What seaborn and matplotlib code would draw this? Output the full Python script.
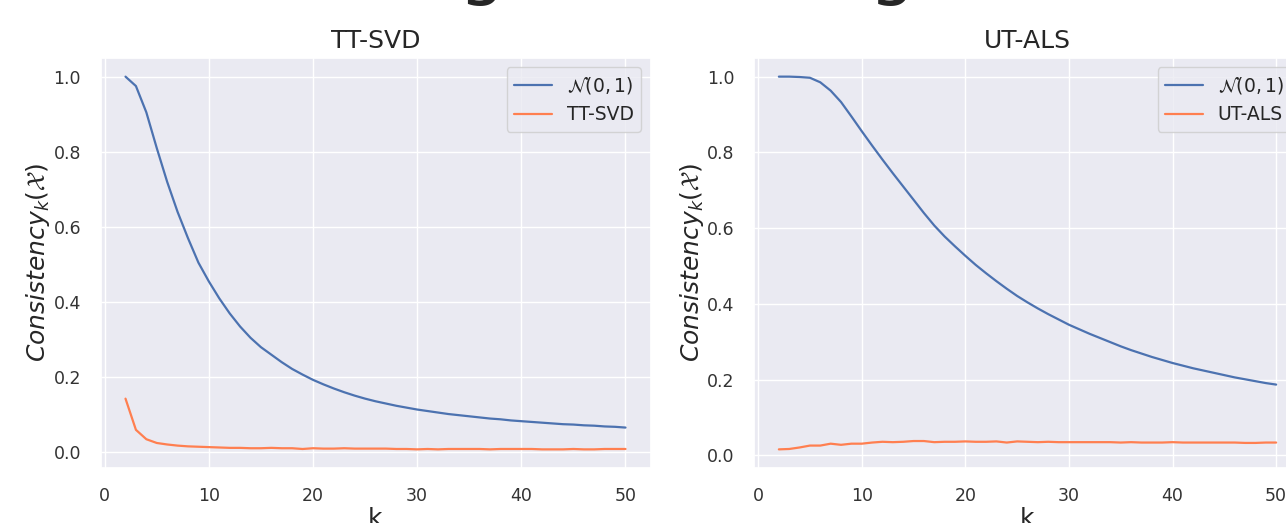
import numpy as np
import pandas as pd
import seaborn as sns
import matplotlib.pyplot as plt

# k values on the x axis
k_values = list(range(2, 51))

# left panel: TT-SVD
ttsvd_normal = [1.0, 0.975, 0.905, 0.81, 0.72, 0.64, 0.57, 0.505, 0.455, 0.41,
                0.37, 0.335, 0.305, 0.28, 0.26, 0.24, 0.222, 0.207, 0.193, 0.181,
                0.17, 0.16, 0.151, 0.143, 0.136, 0.13, 0.124, 0.119, 0.114, 0.11,
                0.106, 0.102, 0.099, 0.096, 0.093, 0.09, 0.088, 0.085, 0.083, 0.081,
                0.079, 0.077, 0.075, 0.074, 0.072, 0.071, 0.069, 0.068, 0.066]
ttsvd_method = [0.143, 0.06, 0.035, 0.025, 0.021, 0.018, 0.016, 0.015, 0.014, 0.013,
                0.012, 0.012, 0.011, 0.011, 0.012, 0.011, 0.011, 0.009, 0.011, 0.010,
                0.010, 0.011, 0.010, 0.010, 0.010, 0.010, 0.009, 0.009, 0.008, 0.009,
                0.008, 0.009, 0.009, 0.009, 0.009, 0.008, 0.009, 0.009, 0.009, 0.009,
                0.008, 0.008, 0.008, 0.009, 0.008, 0.008, 0.009, 0.009, 0.009]

# right panel: UT-ALS
utals_normal = [1.0, 1.0, 0.999, 0.997, 0.985, 0.963, 0.933, 0.895, 0.856, 0.818,
                0.781, 0.745, 0.71, 0.675, 0.64, 0.607, 0.578, 0.552, 0.527, 0.503,
                0.481, 0.46, 0.44, 0.421, 0.404, 0.388, 0.373, 0.359, 0.345, 0.333,
                0.321, 0.31, 0.299, 0.288, 0.278, 0.269, 0.26, 0.252, 0.244, 0.237,
                0.23, 0.224, 0.218, 0.212, 0.206, 0.201, 0.196, 0.191, 0.187]
utals_method = [0.016, 0.017, 0.021, 0.026, 0.026, 0.031, 0.028, 0.031, 0.031, 0.034,
                0.036, 0.035, 0.036, 0.038, 0.038, 0.035, 0.036, 0.036, 0.037, 0.036,
                0.036, 0.037, 0.034, 0.037, 0.036, 0.035, 0.036, 0.035, 0.035, 0.035,
                0.035, 0.035, 0.035, 0.034, 0.035, 0.034, 0.034, 0.034, 0.035, 0.034,
                0.034, 0.034, 0.034, 0.034, 0.034, 0.033, 0.033, 0.034, 0.034]

panels = [("TT-SVD", ttsvd_normal, ttsvd_method),
          ("UT-ALS", utals_normal, utals_method)]

sns.set_theme(style="darkgrid")
blue = sns.color_palette("deep")[0]
orange = "#FF7F50"

fig = plt.figure(figsize=(12.86, 5.23), dpi=100)
W, H = 1286, 523
ax_left = fig.add_axes([100.5 / W, (H - 468) / H, 550 / W, 410 / H])
ax_right = fig.add_axes([754 / W, (H - 468) / H, 547 / W, 410 / H])

for ax, (name, normal, method) in zip([ax_left, ax_right], panels):
    df = pd.DataFrame({"k": k_values * 2,
                       "value": normal + method,
                       "series": [r"$\mathcal{N}(0,1)$"] * len(k_values) + [name] * len(k_values)})
    sns.lineplot(data=df, x="k", y="value", hue="series", palette=[blue, orange],
                 linewidth=1.6, ax=ax)
    ax.set_title(name, fontsize=18, pad=7)
    ax.set_xlabel("k", fontsize=18, labelpad=1)
    ax.set_ylabel(r"$Consistency_k(\mathcal{X})$", fontsize=18, labelpad=1)
    ax.set_xticks([0, 10, 20, 30, 40, 50])
    ax.tick_params(axis="both", labelsize=12.5, colors="#333333")
    ax.tick_params(axis="x", pad=8)
    ax.tick_params(axis="y", pad=8)
    ax.legend(title=None, loc="upper right", fontsize=13.5)

# main title, almost all of it above the crop
fig.text(213 / W, 1 + 9 / H, "Ranking of learning", ha="left", va="baseline",
         fontsize=52)

fig.savefig("out.png", dpi=100)
